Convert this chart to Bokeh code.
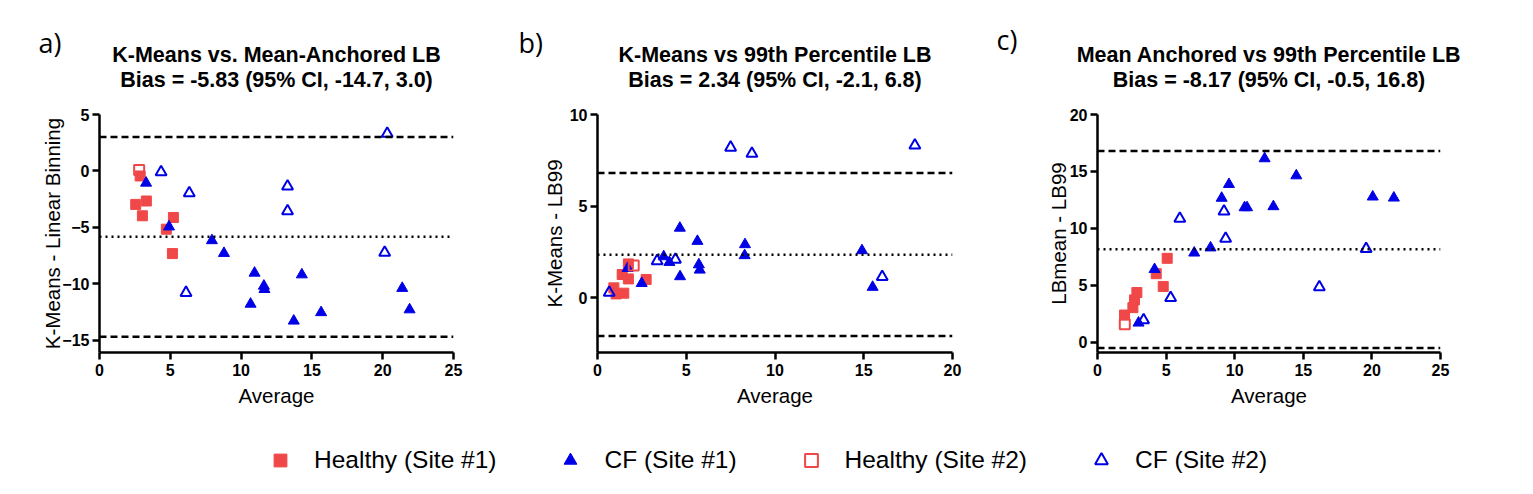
from bokeh.plotting import figure
from bokeh.models import Range1d, FixedTicker, Span, Legend, LegendItem
from bokeh.core.properties import value
from bokeh.layouts import row, column
from bokeh.embed import file_html
from bokeh.resources import INLINE

# ---------------- data ----------------
# panel a: K-Means vs Mean-Anchored LB
a_h1_x = [2.56, 3.03, 3.31, 2.87, 5.22, 4.72, 5.15]
a_h1_y = [-2.97, -3.98, -2.67, -0.45, -4.13, -5.17, -7.33]
a_h2_x = [2.80]
a_h2_y = [0.08]
a_cf1_x = [3.29, 4.91, 7.94, 8.79, 10.95, 11.61, 11.65, 10.67, 14.29, 13.72, 15.65, 21.38, 21.9]
a_cf1_y = [-1.07, -4.95, -6.17, -7.3, -9.05, -10.2, -10.5, -11.8, -9.2, -13.3, -12.55, -10.4, -12.3]
a_cf2_x = [4.35, 6.34, 6.11, 13.28, 13.28, 20.32, 20.14]
a_cf2_y = [-0.1, -1.96, -10.8, -1.37, -3.56, 3.3, -7.24]
a_lines = [3.0, -5.83, -14.7]   # upper LoA, bias, lower LoA

# panel b: K-Means vs 99th Percentile LB
b_h1_x = [0.92, 1.05, 1.48, 1.39, 1.74, 1.74, 2.74]
b_h1_y = [0.53, 0.2, 0.24, 1.26, 1.84, 1.02, 0.99]
b_h2_x = [2.04]
b_h2_y = [1.75]
b_cf1_x = [1.7, 2.49, 3.73, 4.05, 4.64, 4.65, 5.63, 5.71, 5.76, 8.31, 8.29, 14.9, 15.5]
b_cf1_y = [1.6, 0.78, 2.24, 1.93, 3.8, 1.15, 3.08, 1.8, 1.51, 2.9, 2.3, 2.57, 0.57]
b_cf2_x = [0.66, 3.36, 4.39, 7.5, 8.7, 16.04, 17.88]
b_cf2_y = [0.27, 2.0, 2.08, 8.2, 7.86, 1.13, 8.32]
b_lines = [6.8, 2.34, -2.1]

# panel c: Mean Anchored vs 99th Percentile LB
c_h1_x = [1.97, 2.58, 2.70, 2.87, 4.28, 4.79, 5.08]
c_h1_y = [2.39, 3.04, 3.72, 4.37, 6.02, 4.9, 7.37]
c_h2_x = [1.99]
c_h2_y = [1.59]
c_cf1_x = [2.99, 4.16, 7.05, 8.24, 9.05, 9.58, 10.72, 10.9, 12.18, 12.82, 14.49, 20.06, 21.6]
c_cf1_y = [1.7, 6.4, 7.85, 8.3, 12.66, 13.87, 11.83, 11.83, 16.13, 11.92, 14.63, 12.77, 12.68]
c_cf2_x = [3.36, 5.33, 6.0, 9.22, 9.34, 16.17, 19.58]
c_cf2_y = [1.94, 3.9, 10.86, 11.5, 9.1, 4.84, 8.2]
c_lines = [16.8, 8.17, -0.5]

panel_letters = ["a)", "b)", "c)"]
titles_1 = ["K-Means vs. Mean-Anchored LB", "K-Means vs 99th Percentile LB", "Mean Anchored vs 99th Percentile LB"]
titles_2 = ["Bias = -5.83 (95% CI, -14.7, 3.0)", "Bias = 2.34 (95% CI, -2.1, 6.8)", "Bias = -8.17 (95% CI, -0.5, 16.8)"]
ylabels = ["K-Means - Linear Binning", "K-Means - LB99", "LBmean - LB99"]
series_names = ["Healthy (Site #1)", "CF (Site #1)", "Healthy (Site #2)", "CF (Site #2)"]

RED = "#F04848"
BLUE = "#0000E6"
FONT = "Liberation Sans"

HEAD_H = 100
FIG_H = 320
TOP = 14
BOTTOM = 68

# panel geometry: (figure width, left border, right border, y-label standoff)
geom = [(500, 99, 47, -5), (490, 97, 38, 1), (543, 107, 93, -3)]


def style_axes(p, ylabel, xticks, yticks, ystand):
    p.xgrid.visible = False
    p.ygrid.visible = False
    p.outline_line_color = None
    for ax, ticks in ((p.xaxis[0], xticks), (p.yaxis[0], yticks)):
        ax.ticker = FixedTicker(ticks=ticks)
        ax.minor_tick_line_color = None
        ax.major_tick_in = 0
        ax.major_tick_out = 7
        ax.major_tick_line_width = 2.5
        ax.axis_line_width = 2.5
        ax.axis_line_color = "black"
        ax.major_tick_line_color = "black"
        ax.major_label_text_font = FONT
        ax.major_label_text_font_size = "16px"
        ax.major_label_text_font_style = "bold"
        ax.major_label_text_color = "black"
        ax.axis_label_text_font = FONT
        ax.axis_label_text_font_size = "20.5px"
        ax.axis_label_text_font_style = "normal"
        ax.axis_label_text_color = "black"
    p.xaxis[0].axis_label = "Average"
    p.yaxis[0].axis_label = ylabel
    p.xaxis[0].major_label_standoff = 4
    p.yaxis[0].major_label_standoff = 3
    p.xaxis[0].axis_label_standoff = 5
    p.yaxis[0].axis_label_standoff = ystand


def make_panel(i, xr, yr, xticks, yticks, xs, ys, lines):
    width, bl, br, ystand = geom[i]
    p = figure(width=width, height=FIG_H, x_range=Range1d(*xr), y_range=Range1d(*yr),
               output_backend="svg", toolbar_location=None, title=None,
               min_border_left=bl, min_border_right=br, min_border_top=TOP, min_border_bottom=BOTTOM)
    style_axes(p, ylabels[i], xticks, yticks, ystand)
    up, mid, lo = lines
    p.add_layout(Span(location=up, dimension="width", line_color="black", line_width=2.5, line_dash="7 4"))
    p.add_layout(Span(location=lo, dimension="width", line_color="black", line_width=2.5, line_dash="7 4"))
    p.add_layout(Span(location=mid, dimension="width", line_color="black", line_width=2.5, line_dash="2 4"))
    p.scatter(xs[0], ys[0], marker="square", size=10, fill_color=RED, line_color=RED, line_width=1)
    p.scatter(xs[1], ys[1], marker="triangle", size=11, fill_color=BLUE, line_color=BLUE, line_width=1)
    p.scatter(xs[2], ys[2], marker="square", size=10, fill_color=None, line_color=RED, line_width=2)
    p.scatter(xs[3], ys[3], marker="triangle", size=11, fill_color=None, line_color=BLUE, line_width=2)
    return p


pa = make_panel(0, (0, 25), (-16.1, 5), [0, 5, 10, 15, 20, 25], [-15, -10, -5, 0, 5],
                [a_h1_x, a_cf1_x, a_h2_x, a_cf2_x], [a_h1_y, a_cf1_y, a_h2_y, a_cf2_y], a_lines)
pb = make_panel(1, (0, 20), (-3, 10), [0, 5, 10, 15, 20], [0, 5, 10],
                [b_h1_x, b_cf1_x, b_h2_x, b_cf2_x], [b_h1_y, b_cf1_y, b_h2_y, b_cf2_y], b_lines)
pc = make_panel(2, (0, 25), (-0.9, 20), [0, 5, 10, 15, 20, 25], [0, 5, 10, 15, 20],
                [c_h1_x, c_cf1_x, c_h2_x, c_cf2_x], [c_h1_y, c_cf1_y, c_h2_y, c_cf2_y], c_lines)

# ---------------- header strip: panel letters and titles (pixel coordinates) ----------------
total_w = sum(g[0] for g in geom)
ph = figure(width=total_w, height=HEAD_H, x_range=Range1d(0, total_w), y_range=Range1d(HEAD_H, 0),
            output_backend="svg", toolbar_location=None, title=None,
            min_border_left=0, min_border_right=0, min_border_top=0, min_border_bottom=0)
ph.axis.visible = False
ph.grid.visible = False
ph.outline_line_color = None
starts = [0, geom[0][0], geom[0][0] + geom[1][0]]
centers = [s + g[1] + (g[0] - g[1] - g[2]) / 2 for s, g in zip(starts, geom)]
letter_x = [s + d for s, d in zip(starts, [38, 18, 6])]
letter_y = [42, 42, 39]
ph.text(x=centers, y=[54] * 3, text=titles_1, text_font=value(FONT), text_font_size=value("21.5px"),
        text_font_style="bold", text_align="center", text_baseline="middle", text_color="black")
ph.text(x=centers, y=[79] * 3, text=titles_2, text_font=value(FONT), text_font_size=value("21.5px"),
        text_font_style="bold", text_align="center", text_baseline="middle", text_color="black")
ph.text(x=letter_x, y=letter_y, text=panel_letters, text_font=value("Open Sans"),
        text_font_size=value("27px"), text_align="left", text_baseline="middle", text_color="black")

# ---------------- legend strip ----------------
pl = figure(width=total_w, height=72, x_range=Range1d(-1000, -999), y_range=Range1d(-1000, -999),
            output_backend="svg", toolbar_location=None, title=None,
            min_border_left=0, min_border_right=0, min_border_top=0, min_border_bottom=0)
pl.axis.visible = False
pl.grid.visible = False
pl.outline_line_color = None
# legend-only renderers (share the series styling; their points fall outside this strip's ranges)
r1 = pl.scatter(a_h1_x, a_h1_y, marker="square", fill_color=RED, line_color=RED, line_width=1)
r2 = pl.scatter(a_cf1_x, a_cf1_y, marker="triangle", fill_color=BLUE, line_color=BLUE, line_width=1)
r3 = pl.scatter(a_h2_x, a_h2_y, marker="square", fill_color=None, line_color=RED, line_width=2)
r4 = pl.scatter(a_cf2_x, a_cf2_y, marker="triangle", fill_color=None, line_color=BLUE, line_width=2)
leg = Legend(items=[LegendItem(label=n, renderers=[r]) for n, r in zip(series_names, [r1, r2, r3, r4])],
             orientation="horizontal", location=(264, 16), glyph_width=32, glyph_height=32,
             label_standoff=18, spacing=58, padding=0, margin=0, border_line_color=None,
             background_fill_alpha=0, label_text_font=FONT, label_text_font_size="24.5px",
             label_text_color="black")
pl.add_layout(leg)

layout = column(ph, row(pa, pb, pc), pl)
open("out.html", "w").write(file_html(layout, INLINE))
